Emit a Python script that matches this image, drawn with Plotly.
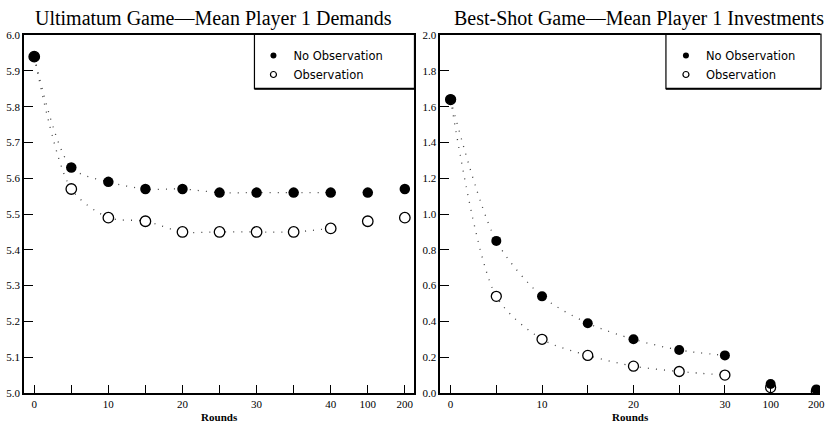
import plotly.graph_objects as go

# Ultimatum game: mean player 1 demands by round
ult_rounds = ["0", "5", "10", "15", "20", "25", "30", "35", "40", "100", "200"]
ult_no_obs = [5.94, 5.63, 5.59, 5.57, 5.57, 5.56, 5.56, 5.56, 5.56, 5.56, 5.57]
ult_obs = [5.94, 5.57, 5.49, 5.48, 5.45, 5.45, 5.45, 5.45, 5.46, 5.48, 5.49]
ult_tick_text = ["0", "", "10", "", "20", "", "30", "", "40", "100", "200"]
ult_trend_len = 9  # dotted trend runs over rounds 0-40

# Best-shot game: mean player 1 investments by round
bs_rounds = ["0", "5", "10", "15", "20", "25", "30", "100", "200"]
bs_no_obs = [1.64, 0.85, 0.54, 0.39, 0.30, 0.24, 0.21, 0.05, 0.02]
bs_obs = [1.64, 0.54, 0.30, 0.21, 0.15, 0.12, 0.10, 0.03, 0.01]
bs_tick_text = ["0", "", "10", "", "20", "", "30", "100", "200"]
bs_trend_len = 7  # dotted trend runs over rounds 0-30

SERIF = "Liberation Serif"
SANS = "DejaVu Sans"
W, H = 825, 433

dot_line = dict(color="#444", width=1.3, dash="1px,7px", shape="spline", smoothing=0.8)

fig = go.Figure()


def add_panel(rounds, no_obs, obs, n_trend, xa, ya, legend, msize):
    # dotted trend curves
    for vals in (no_obs, obs):
        fig.add_trace(go.Scatter(
            x=rounds[:n_trend], y=vals[:n_trend], mode="lines", line=dot_line,
            xaxis=xa, yaxis=ya, showlegend=False, hoverinfo="skip"))
    # open circles: observation
    fig.add_trace(go.Scatter(
        x=rounds, y=obs, mode="markers", xaxis=xa, yaxis=ya, showlegend=False,
        marker=dict(symbol="circle", size=msize, color="white",
                    line=dict(color="black", width=1.3))))
    # filled circles: no observation
    fig.add_trace(go.Scatter(
        x=rounds, y=no_obs, mode="markers", xaxis=xa, yaxis=ya, showlegend=False,
        marker=dict(symbol="circle", size=msize, color="black",
                    line=dict(color="black", width=0))))
    # legend entries with small symbols
    fig.add_trace(go.Scatter(
        x=[None], y=[None], mode="markers", name="No Observation",
        xaxis=xa, yaxis=ya, legend=legend,
        marker=dict(symbol="circle", size=6, color="black")))
    fig.add_trace(go.Scatter(
        x=[None], y=[None], mode="markers", name="Observation",
        xaxis=xa, yaxis=ya, legend=legend,
        marker=dict(symbol="circle", size=6, color="white",
                    line=dict(color="black", width=1.2))))


add_panel(ult_rounds, ult_no_obs, ult_obs, ult_trend_len, "x", "y", "legend", 10.5)
add_panel(bs_rounds, bs_no_obs, bs_obs, bs_trend_len, "x2", "y2", "legend2", 10)

y_top = 1 - 30 / H
y_bot = 1 - 398 / H
left_dom = [24 / W, 417 / W]
right_dom = [443 / W, 1.0]

axis_common = dict(showgrid=False, zeroline=False, showline=True, linecolor="black",
                   linewidth=1.5, ticks="inside", tickcolor="black", tickwidth=1.3,
                   tickfont=dict(family=SERIF, size=11, color="black"))

fig.update_layout(
    width=W, height=H,
    margin=dict(l=0, r=0, t=0, b=0),
    paper_bgcolor="white", plot_bgcolor="white",
    showlegend=True,
    xaxis=dict(axis_common, domain=left_dom, type="category", range=[-0.28, 10.26],
               tickmode="array", tickvals=ult_rounds, ticktext=ult_tick_text,
               ticklen=8, mirror=True, anchor="y",
               title=dict(text="<b>Rounds</b>", font=dict(family=SERIF, size=11, color="black"),
                          standoff=4)),
    yaxis=dict(axis_common, domain=[y_bot, y_top], range=[5.0, 6.0],
               tickmode="array", tickvals=[5.0 + 0.1 * i for i in range(11)],
               tickformat=".1f", ticklen=9, mirror=True, anchor="x"),
    xaxis2=dict(axis_common, domain=right_dom, type="category", range=[-0.225, 8.08],
                tickmode="array", tickvals=bs_rounds, ticktext=bs_tick_text,
                ticklen=8, mirror=True, anchor="y2",
                title=dict(text="<b>Rounds</b>", font=dict(family=SERIF, size=11, color="black"),
                           standoff=4)),
    yaxis2=dict(axis_common, domain=[y_bot, y_top], range=[0.0, 2.0],
                tickmode="array", tickvals=[0.2 * i for i in range(11)],
                tickformat=".1f", ticklen=9, mirror=False, anchor="x2"),
    legend=dict(x=255 / W, y=1 - 36 / H, xanchor="left", yanchor="top",
                bgcolor="rgba(0,0,0,0)", borderwidth=0, tracegroupgap=0,
                font=dict(family=SANS, size=11.5, color="black")),
    legend2=dict(x=670 / W, y=1 - 36 / H, xanchor="left", yanchor="top",
                 bgcolor="rgba(0,0,0,0)", borderwidth=0, tracegroupgap=0,
                 font=dict(family=SANS, size=11.5, color="black")),
)

# legend frames
for x0, x1 in ((256, 417), (670, 826)):
    fig.add_shape(type="rect", xref="paper", yref="paper",
                  x0=x0 / W, x1=x1 / W, y0=1 - 85 / H, y1=1 - 29 / H,
                  line=dict(color="black", width=1.2), fillcolor="rgba(0,0,0,0)")
    fig.add_shape(type="line", xref="paper", yref="paper",
                  x0=x0 / W, x1=x1 / W, y0=1 - 85 / H, y1=1 - 85 / H,
                  line=dict(color="black", width=2))

# panel titles
fig.add_annotation(text="Ultimatum Game\u2014Mean Player 1 Demands", xref="paper", yref="paper",
                   x=215 / W, y=1 - 13 / H, xanchor="center", yanchor="middle",
                   showarrow=False, font=dict(family=SERIF, size=20, color="black"))
fig.add_annotation(text="Best-Shot Game\u2014Mean Player 1 Investments", xref="paper", yref="paper",
                   x=455 / W, y=1 - 13 / H, xanchor="left", yanchor="middle",
                   showarrow=False, font=dict(family=SERIF, size=20, color="black"))

fig.write_html("out.html")
